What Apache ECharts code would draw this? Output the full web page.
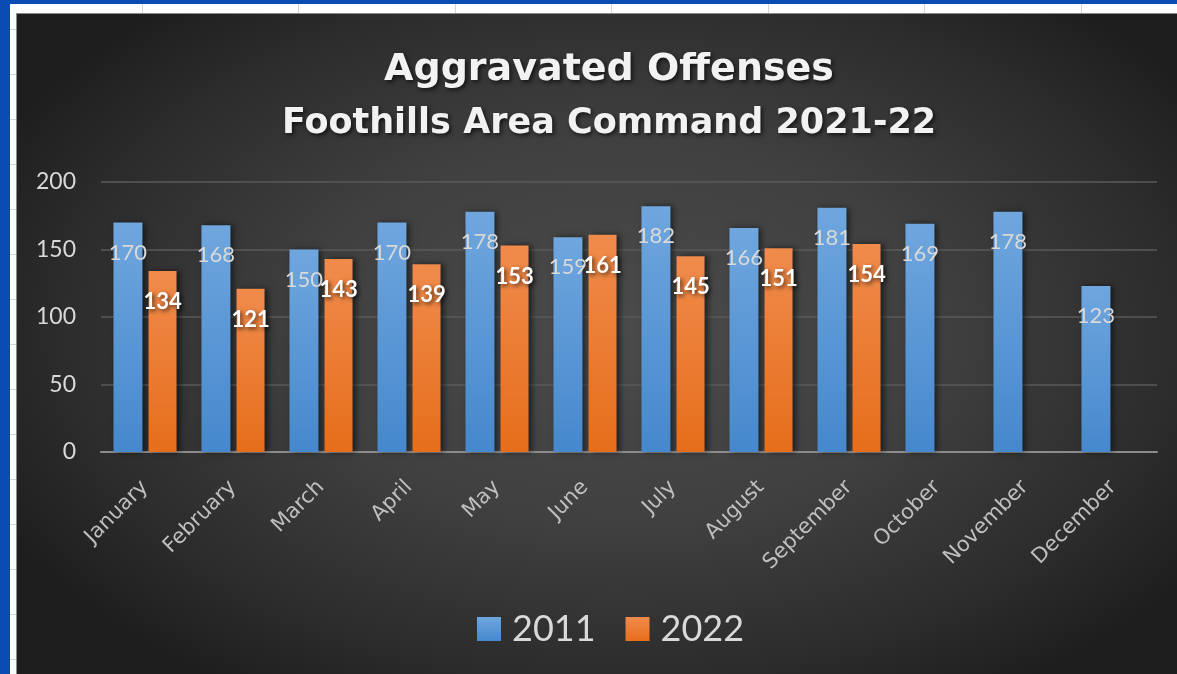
<!DOCTYPE html>
<html>
<head>
<meta charset="utf-8">
<script src="https://cdn.jsdelivr.net/npm/echarts@6/dist/echarts.min.js"></script>
<style>
html,body{margin:0;padding:0;width:1177px;height:674px;overflow:hidden;background:#0a4bb4;}
#sheet{position:absolute;left:10px;top:4px;width:1167px;height:670px;background-color:#ffffff;
 background-image:repeating-linear-gradient(90deg, transparent 0px, transparent 132px, #d4d4d4 132px, #d4d4d4 133px, transparent 133px, transparent 156.5px),
 repeating-linear-gradient(180deg, transparent 0px, transparent 25px, #d4d4d4 25px, #d4d4d4 26px, transparent 26px, transparent 45px);}
#chart{position:absolute;left:16px;top:13px;width:1161px;height:661px;
 background:radial-gradient(ellipse 60% 65% at 52% 48%, #4b4b4b 0%, #404040 45%, #2c2c2c 80%, #1e1e1e 100%);
 border-top:1px solid #8a8a8a;border-left:1px solid #8a8a8a;box-sizing:border-box;}
</style>
</head>
<body>
<div id="sheet"></div>
<div id="chart"></div>
<script>
var months = ['January','February','March','April','May','June','July','August','September','October','November','December'];
var series2011 = [170,168,150,170,178,159,182,166,181,169,178,123];
var series2022 = [134,121,143,139,153,161,145,151,154,null,null,null];
var yTicks = [0,50,100,150,200];

var chart = echarts.init(document.getElementById('chart'), null, {renderer:'canvas'});
var shadowText = {textShadowColor:'rgba(0,0,0,0.65)', textShadowBlur:4, textShadowOffsetX:2, textShadowOffsetY:2};
var option = {
  backgroundColor: 'transparent',
  animation: false,
  title: [
    {text:'Aggravated Offenses', left:587, top:31, textAlign:'center',
     textStyle: Object.assign({color:'#f2f2f2', fontSize:38, fontWeight:'bold', fontFamily:'DejaVu Sans', lineHeight:40}, shadowText)},
    {text:'Foothills Area Command 2021-22', left:587, top:86, textAlign:'center',
     textStyle: Object.assign({color:'#f2f2f2', fontSize:35, fontWeight:'bold', fontFamily:'DejaVu Sans', lineHeight:37}, shadowText)}
  ],
  legend: {
    data:['2011','2022'], left:455, top:592, itemWidth:24, itemHeight:24, itemGap:30,
    icon:'rect',
    textStyle:{color:'#d9d9d9', fontSize:36, fontFamily:'Lato', padding:[0,0,0,6]}
  },
  grid: {left:84, right:20, top:168, bottom:222, containLabel:false},
  xAxis: {
    type:'category', data:months,
    axisLine:{lineStyle:{color:'#8c8c8c', width:2}},
    axisTick:{show:false},
    axisLabel:{rotate:45, color:'#bfbfbf', fontSize:21, fontFamily:'DejaVu Sans', margin:32, interval:0}
  },
  yAxis: {
    type:'value', min:yTicks[0], max:yTicks[yTicks.length-1], interval:50,
    axisLine:{show:false}, axisTick:{show:false},
    splitLine:{lineStyle:{color:'#5a5a5a', width:1.5}},
    axisLabel:{color:'#d9d9d9', fontSize:23, fontFamily:'Lato', margin:25}
  },
  series: [
    {name:'2011', type:'bar', data:series2011, barWidth:29, barGap:'21%',
     itemStyle:{color:new echarts.graphic.LinearGradient(0,0,0,1,[{offset:0,color:'#6fa6de'},{offset:1,color:'#4688cd'}]),
       shadowColor:'rgba(0,0,0,0.55)', shadowBlur:6, shadowOffsetX:3, shadowOffsetY:0},
     label:{show:true, position:'insideTop', distance:19, color:'#d9d9d9', fontSize:22, fontFamily:'Lato'}
    },
    {name:'2022', type:'bar', data:series2022, barWidth:28,
     itemStyle:{color:new echarts.graphic.LinearGradient(0,0,0,1,[{offset:0,color:'#f08b4c'},{offset:1,color:'#e66e1b'}]),
       shadowColor:'rgba(0,0,0,0.55)', shadowBlur:6, shadowOffsetX:3, shadowOffsetY:0},
     label:Object.assign({show:true, position:'insideTop', distance:20, color:'#ffffff', fontSize:22, fontWeight:'bold', fontFamily:'Lato'}, shadowText)
    }
  ]
};
chart.setOption(option);
</script>
</body>
</html>
